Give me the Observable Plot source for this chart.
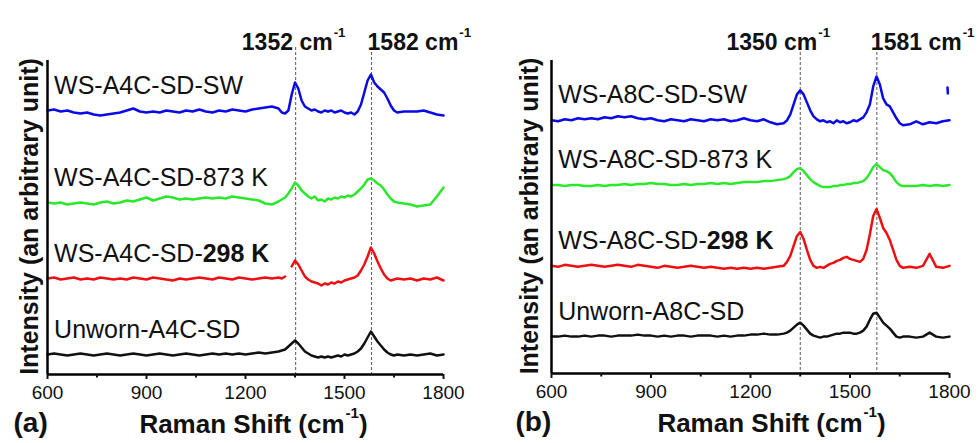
<!DOCTYPE html>
<html><head><meta charset="utf-8">
<script src="https://cdn.jsdelivr.net/npm/d3@7"></script>
<script src="https://cdn.jsdelivr.net/npm/@observablehq/plot@0.6"></script>
<style>
html,body{margin:0;padding:0;background:#fff;}
#chart{display:flex;width:979px;height:443px;background:#fff;}
svg text{font-family:"Liberation Sans", Arial, sans-serif;}
</style></head><body><div id="chart"></div>
<script>
// Raman shift grid (cm^-1)
const ramanShift = [600,620,640,660,680,700,720,740,760,780,800,820,840,860,880,900,920,940,960,980,1000,1020,1040,1060,1080,1100,1120,1140,1160,1180,1200,1220,1240,1260,1280,1300,
  1310,1320,1330,1340,1350,1360,1370,1380,1390,1400,1410,1420,1430,1440,1450,1460,1470,1480,1490,1500,1510,1520,1530,1540,1550,1560,1570,1580,1590,1600,1610,1620,1630,1640,1650,1660,
  1680,1700,1720,1740,1760,1780,1800];

// Panel (a) – stacked intensities (arbitrary units)
const a_SW = [264,265,263,264,262,261,262,260,259,260,261,262,264,266,263,262,263,262,264,263,262,264,263,265,263,262,264,263,265,264,263,265,266,267,268,266,
  262,261,264,280,292,286,274,268,266,264,265,263,262,264,263,264,262,263,264,262,261,262,260,263,270,282,294,300,292,288,285,282,276,269,264,262,
  263,263,263,264,262,260,259];
const a_873 = [172,171,172,170,171,172,171,170,172,173,171,172,174,173,175,177,174,176,178,177,175,176,175,176,177,176,177,176,178,177,176,175,174,171,170,173,
  175,177,181,186,192,189,184,181,178,176,178,174,175,173,176,175,177,176,178,177,179,178,180,183,186,190,195,196,194,191,189,185,180,176,173,172,
  171,170,168,169,170,178,187];
const a_298 = [96,97,95,96,97,95,96,95,97,96,95,96,95,97,96,95,97,96,95,94,96,95,96,97,96,95,97,96,95,97,96,95,96,97,96,97,
  96,98,NaN,108,114,110,104,98,95,93,92,91,89,91,90,92,91,93,92,94,95,96,97,99,104,110,118,127,121,113,106,100,96,94,95,96,
  95,96,94,96,95,97,94];
const a_unworn = [20,21,20,19,20,21,20,19,20,21,20,19,20,21,20,19,20,21,20,19,20,21,20,19,20,21,20,21,20,21,20,21,22,21,22,23,
  24,25,28,31,34,31,27,23,21,19,18,17,18,17,18,17,18,19,18,20,19,20,21,23,26,31,37,43,38,33,29,25,22,20,19,20,
  19,20,19,20,21,19,20];

// Panel (b)
const b_SW = [254,253,255,254,256,255,256,255,257,256,258,257,258,256,255,256,254,253,255,254,253,255,254,253,255,254,255,253,254,256,254,253,255,252,250,251,
  254,260,270,280,284,280,272,264,258,255,253,254,252,253,251,254,252,253,251,252,254,253,255,257,262,270,288,298,290,276,270,268,262,256,251,249,
  250,253,250,252,251,253,254];
const b_SW_tail = {shift: [1794, 1795], intensity: [287, 281]};
const b_873 = [189,189,188,189,189,188,188,189,188,189,189,190,189,190,190,191,190,190,189,189,190,189,190,190,191,190,191,190,191,192,192,192,193,193,194,195,
  196,198,202,205,206,203,199,195,192,190,188,187,187,187,188,188,189,189,190,190,191,191,192,193,196,201,207,210,207,204,203,201,197,192,189,188,
  188,188,189,188,189,188,189];
const b_298 = [108,107,109,108,107,108,109,108,107,108,109,108,107,109,108,107,106,108,107,106,107,108,107,106,107,106,105,106,105,106,105,106,105,106,107,108,
  112,118,128,138,142,135,124,114,108,106,107,106,108,110,111,113,114,116,117,115,114,113,112,115,124,140,158,165,156,146,141,134,124,114,108,106,
  107,106,108,120,107,106,108];
const b_unworn = [37,37,38,37,37,38,37,38,38,37,38,38,38,39,38,38,37,38,37,38,38,37,38,38,38,37,38,37,38,38,39,39,40,39,39,40,
  41,43,46,49,51,48,44,40,38,37,36,37,37,38,39,40,40,41,41,41,40,40,41,43,47,54,60,61,56,51,48,45,41,37,36,37,
  37,36,37,41,37,36,37];

const labelsA = ["WS-A4C-SD-SW", "WS-A4C-SD-873 K", "WS-A4C-SD-298 K", "Unworn-A4C-SD"];
const labelsB = ["WS-A8C-SD-SW", "WS-A8C-SD-873 K", "WS-A8C-SD-298 K", "Unworn-A8C-SD"];
const peaksA = [1352, 1582];
const peaksB = [1350, 1581];
const majorTicks = [600, 900, 1200, 1500, 1800];
const minorTicks = [750, 1050, 1350, 1650];
const panelLetters = ["(a)", "(b)"];
const xTitle = "Raman Shift (cm-1)";
const yTitle = "Intensity (an arbitrary unit)";

const colors = ["#0a0ae6", "#2ae82a", "#ee1010", "#111111"];
const FONT = '"Liberation Sans", Arial, sans-serif';

function panel(o) {
  const labelData = o.labels.map((t, i) => ({t, x: 620, y: o.series[i][0] + 25}));
  const marks = [
    Plot.ruleX(o.peaks, {stroke: "#444", strokeWidth: 0.9, strokeDasharray: "3,2", insetTop: -13}),
    ...o.series.map((vals, i) => Plot.line(vals, {x: ramanShift, y: vals, stroke: colors[i], strokeWidth: 2.5})),
    ...(o.extra ? [Plot.line(o.extra.intensity, {x: o.extra.shift, y: o.extra.intensity, stroke: colors[0], strokeWidth: 2.5})] : []),
    Plot.ruleX([600], {stroke: "#000", strokeWidth: 2.5}),
    Plot.ruleY([0], {stroke: "#000", strokeWidth: 2.5}),
    Plot.axisX({ticks: majorTicks, tickSize: 5, tickPadding: 6, fontSize: 19, strokeWidth: 2, label: null, tickFormat: d => String(d)}),
    Plot.axisX({ticks: minorTicks, tickSize: 3.5, strokeWidth: 2, label: null, tickFormat: () => ""}),
    Plot.text(labelData, {x: "x", y: "y", text: "t", textAnchor: "start", fontSize: 25, fill: "#111"}),
    Plot.text([o.peaks[0]], {x: d => d, text: d => `${d} cm-1`, frameAnchor: "top", dy: -27, dx: o.peakDx[0], textAnchor: "middle", fontSize: 23, fontWeight: "bold", fill: "#111"}),
    Plot.text([o.peaks[1]], {x: d => d, text: d => `${d} cm-1`, frameAnchor: "top", dy: -27, dx: o.peakDx[1], textAnchor: "start", fontSize: 23, fontWeight: "bold", fill: "#111"}),
    Plot.text([xTitle], {frameAnchor: "bottom", textAnchor: "middle", dx: o.titleDx, dy: 58, fontSize: 26, fontWeight: "bold", fill: "#111"}),
    Plot.text([o.letter], {frameAnchor: "bottom-left", textAnchor: "start", dx: o.letterDx, dy: 57, fontSize: 28, fontWeight: "bold", fill: "#111"}),
    Plot.text([yTitle], {frameAnchor: "left", textAnchor: "middle", rotate: -90, dx: o.ylabelDx, dy: -1, fontSize: 25, fontWeight: "bold", fill: "#111"})
  ];
  return Plot.plot({
    width: o.width, height: 443,
    marginLeft: o.marginLeft, marginRight: o.marginRight, marginTop: 60, marginBottom: o.marginBottom,
    x: {domain: [600, 1800]},
    y: {domain: [0, 314], axis: null},
    style: {fontFamily: FONT, background: "#fff", overflow: "visible", color: "#111"},
    marks
  });
}

function richify(svg) {
  d3.select(svg).selectAll("text").each(function() {
    const s = this.textContent;
    const fs = parseFloat(getComputedStyle(this).fontSize) || 20;
    const el = d3.select(this);
    let m;
    if ((m = s.match(/^(.*-)(298 K)$/))) {
      el.text(null);
      el.append("tspan").text(m[1]);
      el.append("tspan").attr("font-weight", "bold").text(m[2]);
    } else if ((m = s.match(/^(.*cm)-1(.*)$/))) {
      const raise = fs * 0.56;
      el.text(null);
      el.append("tspan").text(m[1]);
      el.append("tspan").attr("dy", -raise).attr("dx", 1).attr("font-size", fs * 0.58).text("-1");
      if (m[2]) el.append("tspan").attr("dy", raise).text(m[2]);
    }
  });
}

const chart = document.getElementById("chart");
const svgA = panel({series: [a_SW, a_873, a_298, a_unworn], labels: labelsA, peaks: peaksA,
  width: 490, marginLeft: 47, marginRight: 47, marginBottom: 69,
  peakDx: [-2, -4], titleDx: 8, letterDx: -34, ylabelDx: -18, letter: panelLetters[0]});
const svgB = panel({series: [b_SW, b_873, b_298, b_unworn], labels: labelsB, peaks: peaksB, extra: b_SW_tail,
  width: 489, marginLeft: 61, marginRight: 30, marginBottom: 70,
  peakDx: [-22, -6], titleDx: 21, letterDx: -36, ylabelDx: -22, letter: panelLetters[1]});
chart.appendChild(svgA);
chart.appendChild(svgB);
richify(svgA);
richify(svgB);
</script>
</body></html>
